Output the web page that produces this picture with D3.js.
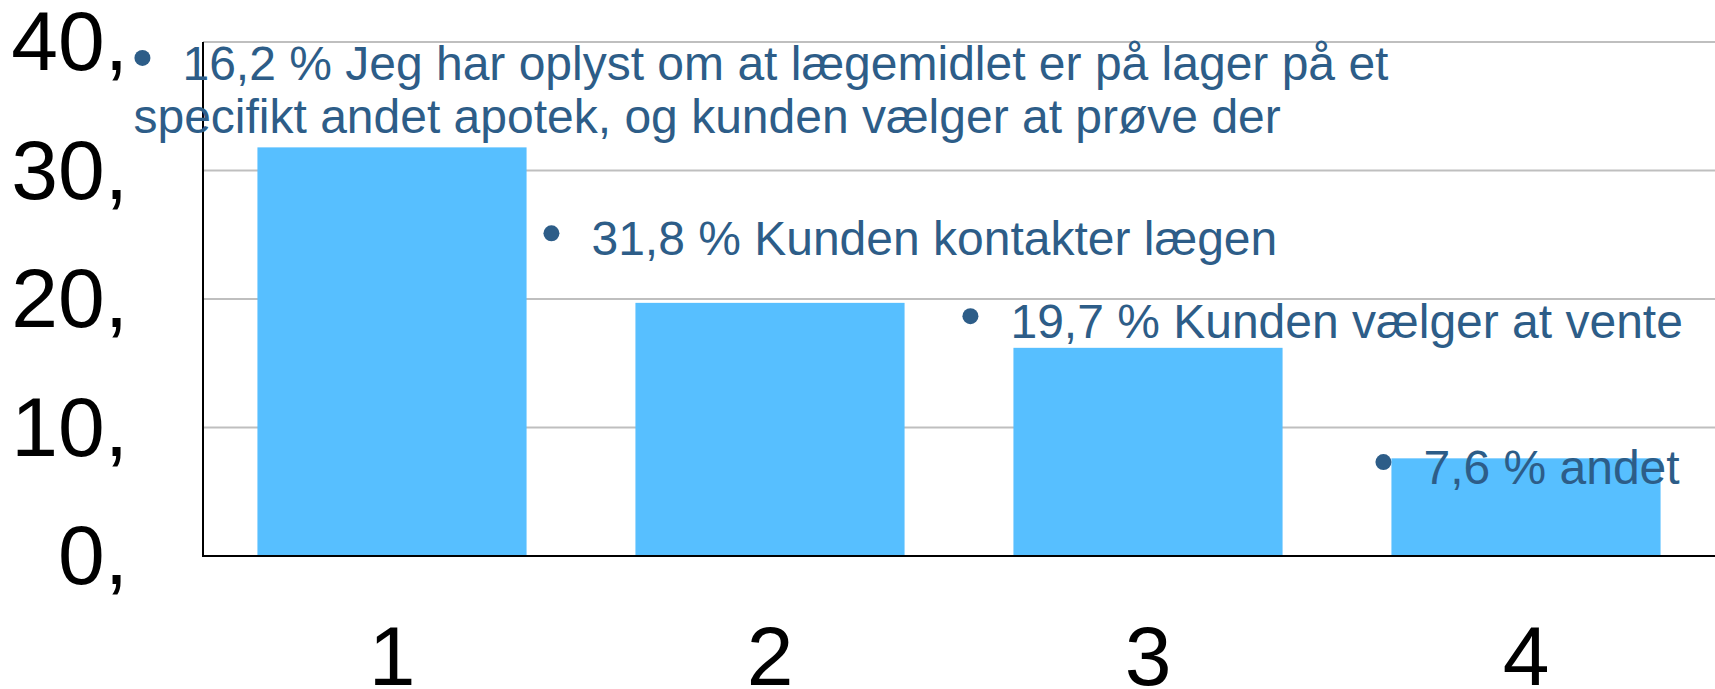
<!DOCTYPE html>
<html>
<head>
<meta charset="utf-8">
<script src="https://d3js.org/d3.v7.min.js"></script>
<style>
  body { margin: 0; background: #fff; }
  text { font-family: "Liberation Sans", Arial, sans-serif; }
  .tick-label { fill: #000; font-size: 84px; }
  .note { fill: #2d5d88; font-size: 48px; }
</style>
</head>
<body>
<svg width="1715" height="689"></svg>
<script>
// data
var categories = ["1", "2", "3", "4"];
var values = [31.8, 19.7, 16.2, 7.6];
var yTicks = [0, 10, 20, 30, 40];
var yTickLabels = ["0,", "10,", "20,", "30,", "40,"];

// overlaid bullet text box (lines, anchor category, anchor value)
var noteLines = [
  ["16,2 % Jeg har oplyst om at lægemidlet er på lager på et", "specifikt andet apotek, og kunden vælger at prøve der"],
  ["31,8 % Kunden kontakter lægen"],
  ["19,7 % Kunden vælger at vente"],
  ["7,6 % andet"]
];
var noteCats = ["1", "2", "3", "4"];
var noteValues = [37.05, 23.4, 16.95, 5.6];
var noteShift = [-115, -84, -43, -8];

var svg = d3.select("svg");
var plotLeft = 203, plotRight = 1715, plotTop = 42, plotBottom = 556;

var x = d3.scaleBand()
  .domain(categories)
  .range([plotLeft, plotRight])
  .paddingInner(0.288)
  .paddingOuter(0.144);

var y = d3.scaleLinear()
  .domain([0, 40])
  .range([plotBottom, plotTop]);

// gridlines
svg.append("g")
  .selectAll("line")
  .data(yTicks.filter(function(d) { return d > 0; }))
  .enter()
  .append("line")
  .attr("x1", plotLeft)
  .attr("x2", plotRight)
  .attr("y1", function(d) { return y(d); })
  .attr("y2", function(d) { return y(d); })
  .attr("stroke", "#bfbfbf")
  .attr("stroke-width", 2);

// bars
svg.append("g")
  .selectAll("rect")
  .data(values)
  .enter()
  .append("rect")
  .attr("x", function(d, i) { return x(categories[i]); })
  .attr("width", x.bandwidth())
  .attr("y", function(d) { return y(d); })
  .attr("height", function(d) { return y(0) - y(d); })
  .attr("fill", "#57bfff");

// axis lines
svg.append("line")
  .attr("x1", plotLeft).attr("x2", plotLeft)
  .attr("y1", y(40)).attr("y2", y(0) + 1)
  .attr("stroke", "#000").attr("stroke-width", 2);
svg.append("line")
  .attr("x1", plotLeft - 1).attr("x2", plotRight)
  .attr("y1", y(0)).attr("y2", y(0))
  .attr("stroke", "#000").attr("stroke-width", 2);

// y tick labels
svg.append("g")
  .selectAll("text")
  .data(yTicks)
  .enter()
  .append("text")
  .attr("class", "tick-label")
  .attr("x", 128)
  .attr("y", function(d) { return y(d) + 28; })
  .attr("text-anchor", "end")
  .text(function(d, i) { return yTickLabels[i]; });

// x tick labels
svg.append("g")
  .selectAll("text")
  .data(categories)
  .enter()
  .append("text")
  .attr("class", "tick-label")
  .attr("x", function(d) { return x(d) + x.bandwidth() / 2; })
  .attr("y", 685)
  .attr("text-anchor", "middle")
  .text(function(d) { return d; });

// bullet notes
var notes = svg.append("g")
  .selectAll("g")
  .data(noteLines)
  .enter()
  .append("g")
  .attr("transform", function(d, i) {
    return "translate(" + [x(noteCats[i]) + noteShift[i], y(noteValues[i])] + ")";
  });

notes.append("circle")
  .attr("cx", 0)
  .attr("cy", -22)
  .attr("r", 8)
  .attr("fill", "#2d5d88");

notes.each(function(lines) {
  var g = d3.select(this);
  lines.forEach(function(line, j) {
    g.append("text")
      .attr("class", "note")
      .attr("x", j === 0 ? 40 : -9)
      .attr("y", j * 53)
      .text(line);
  });
});
</script>
</body>
</html>
